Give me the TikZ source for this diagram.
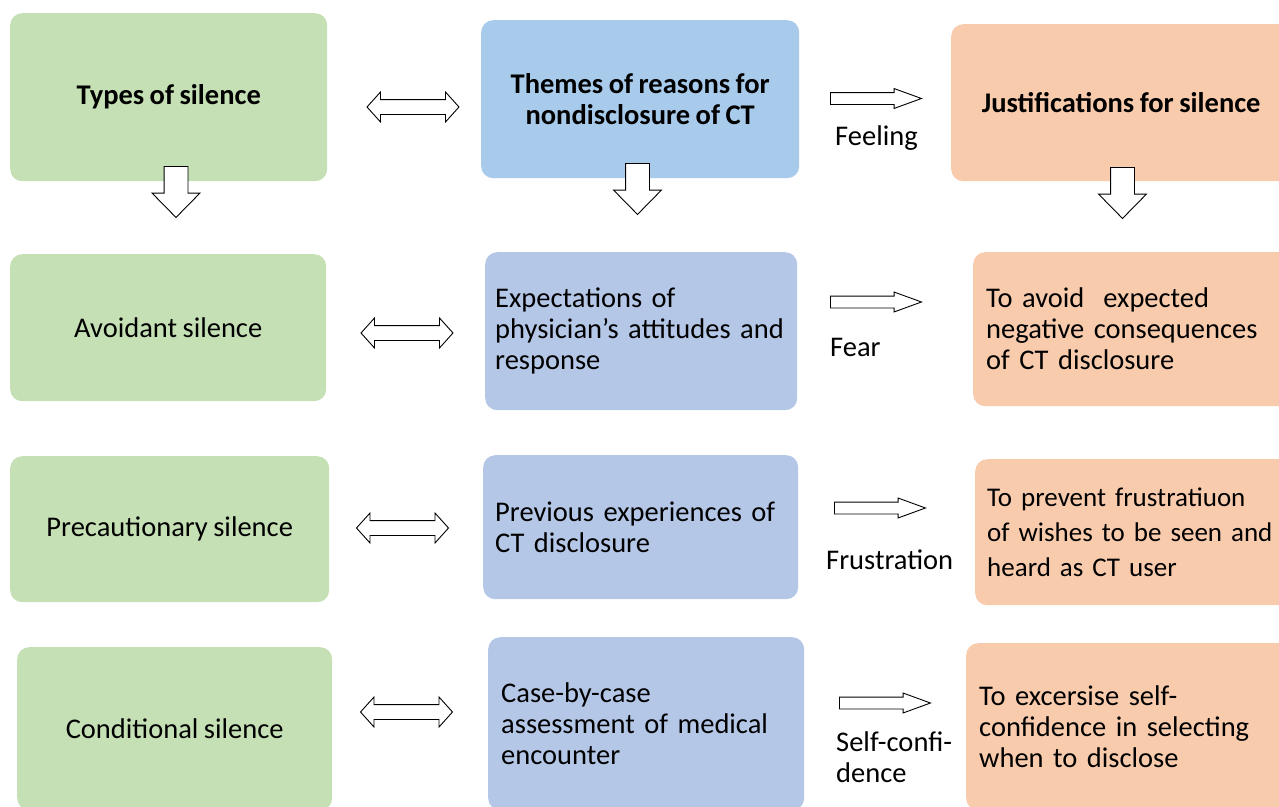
\documentclass[tikz,border=0pt]{standalone}
\usepackage{fontspec}
\setmainfont[WordSpace=0.85]{Carlito}
\usetikzlibrary{shapes.arrows}

\definecolor{silgreen}{HTML}{C5E0B4}
\definecolor{themeblue}{HTML}{A9CBEB}
\definecolor{reasonblue}{HTML}{B4C7E7}
\definecolor{justorange}{HTML}{F8CBAD}

\newcommand{\boxfont}{\fontsize{28.5}{31}\selectfont}

\tikzset{
  box/.style={rounded corners=12pt, inner sep=0pt, anchor=north west,
    font=\boxfont},
  greenbox/.style={box, fill=silgreen, align=center},
  bluebox/.style={box, fill=reasonblue, align=left, inner xsep=12pt},
  orangebox/.style={box, fill=justorange, align=left, inner xsep=13pt},
  label/.style={anchor=west, align=left, inner sep=0pt, font=\boxfont},
  arrowline/.style={draw=black, fill=white, line width=0.9pt, inner xsep=0pt},
  botharrow/.style={arrowline, double arrow, minimum height=92pt,
    inner ysep=7pt, double arrow head extend=7.5pt, double arrow tip angle=96},
  toarrow/.style={arrowline, single arrow, anchor=tail, minimum height=91pt,
    inner ysep=5.5pt, single arrow head extend=4pt, single arrow tip angle=40},
  downarrow/.style={arrowline, single arrow, anchor=tail, rotate=-90,
    minimum height=51pt, inner ysep=11.5pt, single arrow head extend=12pt,
    single arrow tip angle=89}
}

\begin{document}
\begin{tikzpicture}[x=1pt, y=-1pt]
\useasboundingbox (0,0) rectangle (1279,806);
\clip (0,0) rectangle (1279,806);

% Header row
\node[greenbox, minimum width=317pt, minimum height=168pt,
  font=\boxfont\bfseries] (types) at (10,13) {Types of silence};
\node[box, fill=themeblue, align=center, minimum width=318pt, minimum height=158pt,
  font=\boxfont\bfseries] (themes) at (481,20)
  {Themes of reasons for\\nondisclosure of CT};
\node[box, fill=justorange, align=center, minimum width=340pt, minimum height=157pt,
  font=\boxfont\bfseries] (justif) at (951,24)
  {Justifications for silence};

% Types of silence
\node[greenbox, minimum width=316pt, minimum height=147pt] (avoid) at (10,254) {Avoidant silence};
\node[greenbox, minimum width=319pt, minimum height=146pt] (precaut) at (10,456) {Precautionary silence};
\node[greenbox, minimum width=315pt, minimum height=163pt] (cond) at (17,647) {Conditional silence};

% Reasons for nondisclosure
\node[bluebox, inner xsep=10pt, text width=292pt, minimum height=158pt] (expect) at (485,252)
  {Expectations of\\physician's attitudes and\\response};
\node[bluebox, text width=291pt, minimum height=144pt] (previous) at (483,455)
  {Previous experiences of\\CT disclosure};
\node[bluebox, inner xsep=13pt, text width=290pt, minimum height=173pt] (casebycase) at (488,637)
  {Case-by-case\\assessment of medical\\encounter};

% Justifications
\node[orangebox, text width=301pt, minimum height=154pt] (toavoid) at (973,252)
  {To avoid~ expected\\negative consequences\\of CT disclosure};
\node[orangebox, inner xsep=12pt, text width=301pt, minimum height=146pt,
  font=\fontsize{27}{35}\selectfont] (toprevent) at (975,459)
  {To prevent frustratiuon\\of wishes to be seen and\\heard as CT user};
\node[orangebox, text width=308pt, minimum height=167pt] (toexcersise) at (966,643)
  {To excersise self-\\confidence in selecting\\when to disclose};

% Arrows down from the headers
\node[downarrow] (typesdown) at (176,166) {};
\node[downarrow] (themesdown) at (637.5,163) {};
\node[downarrow] (justifdown) at (1122.5,167) {};

% Two-way arrows
\node[botharrow] (typesthemes) at (413,107) {};
\node[botharrow] (avoidexpect) at (407,333) {};
\node[botharrow] (precautprev) at (402.5,528) {};
\node[botharrow] (condcase) at (406.5,712) {};

% Arrows towards the justifications
\node[toarrow] (feelarrow) at (830,98.5) {};
\node[toarrow] (feararrow) at (830,302) {};
\node[toarrow] (frustarrow) at (834,508) {};
\node[toarrow] (selfarrow) at (839,703) {};

\node[label] (feeling) at (835,138) {Feeling};
\node[label] (fear) at (830,347) {Fear};
\node[label] (frustration) at (826,560) {Frustration};
\node[label] (selfconf) at (836,757) {Self-confi-\\dence};
\end{tikzpicture}
\end{document}
